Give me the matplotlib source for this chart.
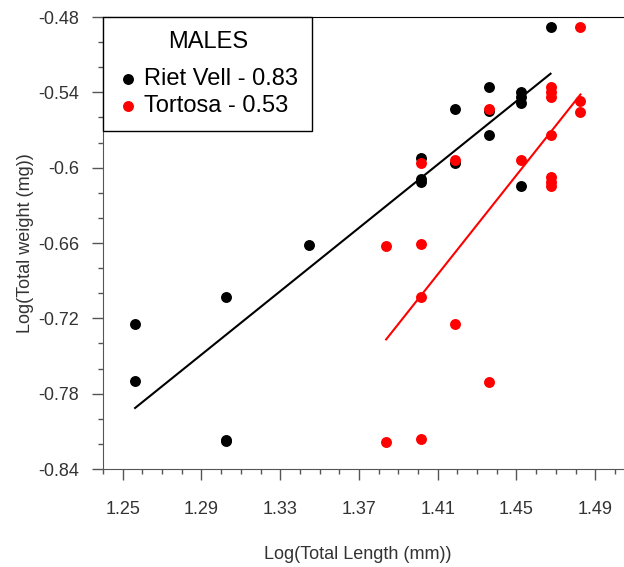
import numpy as np
import matplotlib.pyplot as plt
from matplotlib.ticker import MultipleLocator, FixedLocator

plt.rcParams['font.family'] = ['Liberation Sans', 'DejaVu Sans']
plt.rcParams['axes.unicode_minus'] = False

# Riet Vell (black)
rv_x = [1.2563, 1.2563, 1.3024, 1.3024, 1.3024, 1.3446, 1.4017, 1.4017, 1.4017,
        1.4190, 1.4190, 1.4361, 1.4361, 1.4361, 1.4521, 1.4521, 1.4521, 1.4521, 1.4673]
rv_y = [-0.7242, -0.7697, -0.7027, -0.8168, -0.8180, -0.6612, -0.5925, -0.6087, -0.6114,
        -0.5534, -0.5965, -0.5361, -0.5545, -0.5742, -0.5401, -0.5441, -0.5481, -0.6149, -0.4877]

# Tortosa (red)
to_x = [1.3838, 1.3838, 1.4017, 1.4017, 1.4017, 1.4017, 1.4190, 1.4190, 1.4361, 1.4361,
        1.4521, 1.4673, 1.4673, 1.4673, 1.4673, 1.4673, 1.4673, 1.4673, 1.4825, 1.4825, 1.4825]
to_y = [-0.6620, -0.8182, -0.5963, -0.6609, -0.7029, -0.8162, -0.5936, -0.7244, -0.5529, -0.7705,
        -0.5936, -0.5361, -0.5401, -0.5441, -0.5742, -0.6074, -0.6114, -0.6149, -0.4877, -0.5470, -0.5556]

labels = ['Riet Vell - 0.83', 'Tortosa - 0.53']
colors = ['black', '#ff0000']

xticks = [1.25, 1.29, 1.33, 1.37, 1.41, 1.45, 1.49]
yticks = [-0.48, -0.54, -0.6, -0.66, -0.72, -0.78, -0.84]

fig = plt.figure(figsize=(6.24, 5.67), dpi=100)
ax = fig.add_axes([103/624, 98/567, 531.6/624, 452/567])

series = [(rv_x, rv_y), (to_x, to_y)]
for (xs, ys), lab, c in zip(series, labels, colors):
    xs = np.array(xs)
    ys = np.array(ys)
    ax.scatter(xs, ys, s=62, color=c, label=lab, zorder=3, linewidths=0)
    k, b = np.polyfit(xs, ys, 1)
    t = np.array([xs.min(), xs.max()])
    ax.plot(t, k * t + b, color=c, lw=1.5, zorder=2)

ax.set_xlim(1.24, 1.51)
ax.set_ylim(-0.84, -0.48)

ax.xaxis.set_major_locator(FixedLocator(xticks))
ax.set_xticklabels(['%g' % v for v in xticks])
ax.xaxis.set_minor_locator(MultipleLocator(0.01))
ax.yaxis.set_major_locator(FixedLocator(yticks))
ax.set_yticklabels(['%g' % v for v in yticks])
ax.yaxis.set_minor_locator(MultipleLocator(0.02))

grey = '#555555'
ax.tick_params(which='major', length=8, width=1, color=grey, labelsize=13,
               labelcolor='#333333')
ax.tick_params(axis='x', which='major', pad=15)
ax.tick_params(axis='y', which='major', pad=9)
ax.tick_params(which='minor', length=3.5, width=1, color=grey)
ax.tick_params(top=False, right=False)
ax.spines['left'].set_color(grey)
ax.spines['bottom'].set_color(grey)
ax.spines['top'].set_color('black')
ax.spines['right'].set_visible(False)

ax.set_xlabel('Log(Total Length (mm))', fontsize=13, color='#333333')
ax.set_ylabel('Log(Total weight (mg))', fontsize=13, color='#333333')
ax.xaxis.set_label_coords(0.48, -0.17)
ax.yaxis.set_label_coords(-0.13, 0.5)

leg = ax.legend(title='MALES', loc='upper left', bbox_to_anchor=(0, 1), borderaxespad=0,
                fontsize=17, title_fontsize=17, fancybox=False, edgecolor='black',
                framealpha=1, handletextpad=0.25, borderpad=0.6,
                labelspacing=0.2, handlelength=0.9)
leg.get_frame().set_linewidth(1)
leg._legend_box.sep = 11  # extra room under the title

fig.savefig('out.png', dpi=100)
